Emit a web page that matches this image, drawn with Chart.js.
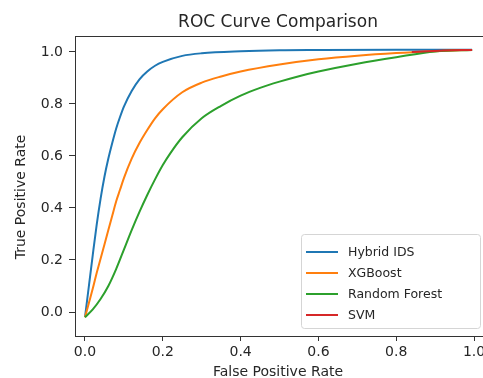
<!DOCTYPE html>
<html>
<head>
<meta charset="utf-8">
<script src="https://cdn.jsdelivr.net/npm/chart.js@4.4.1/dist/chart.umd.min.js"></script>
<style>
  html, body { margin: 0; padding: 0; background: #fff; }
  #wrap { width: 483px; height: 378px; position: relative; overflow: hidden; }
</style>
</head>
<body>
<div id="wrap"><canvas id="rocChart" width="483" height="378"></canvas></div>
<script>
/* ======================================================
   Data
=========================================================*/
const seriesNames = ["Hybrid IDS", "XGBoost", "Random Forest", "SVM"];
const seriesColors = ["#1f77b4", "#ff7f0e", "#2ca02c", "#d62728"];

const fprHybrid = [0, 0.01, 0.02, 0.03, 0.04, 0.05, 0.06, 0.07, 0.08, 0.09, 0.10, 0.12, 0.14, 0.16, 0.18, 0.20, 0.25, 0.30, 0.40, 0.50, 0.60, 0.80, 0.995];
const tprHybrid = [-0.02, 0.10, 0.22, 0.335, 0.435, 0.52, 0.59, 0.65, 0.705, 0.75, 0.79, 0.85, 0.895, 0.925, 0.947, 0.962, 0.985, 0.995, 1.003, 1.007, 1.008, 1.009, 1.009];

const fprXgb = [0, 0.01, 0.02, 0.03, 0.04, 0.05, 0.06, 0.07, 0.08, 0.09, 0.10, 0.12, 0.14, 0.16, 0.18, 0.20, 0.25, 0.30, 0.35, 0.40, 0.50, 0.60, 0.70, 0.80, 0.90, 0.995];
const tprXgb = [-0.02, 0.035, 0.09, 0.15, 0.205, 0.26, 0.315, 0.37, 0.425, 0.47, 0.515, 0.59, 0.65, 0.70, 0.745, 0.78, 0.845, 0.882, 0.906, 0.925, 0.952, 0.972, 0.986, 0.996, 1.003, 1.008];

const fprRf = [0, 0.02, 0.04, 0.06, 0.08, 0.10, 0.12, 0.14, 0.16, 0.18, 0.20, 0.22, 0.25, 0.30, 0.35, 0.40, 0.45, 0.50, 0.55, 0.60, 0.70, 0.80, 0.90, 0.995];
const tprRf = [-0.02, 0.01, 0.05, 0.10, 0.165, 0.24, 0.315, 0.385, 0.45, 0.51, 0.565, 0.612, 0.672, 0.745, 0.793, 0.832, 0.862, 0.886, 0.907, 0.925, 0.955, 0.98, 1.002, 1.008];

const fprSvm = [0.84, 0.92, 0.995];
const tprSvm = [1.0, 1.006, 1.008];

const tickValues = [0, 0.2, 0.4, 0.6, 0.8, 1.0];

/* ======================================================
   Helpers
=========================================================*/
function toPoints(xs, ys) {
  return xs.map((x, i) => ({ x: x, y: ys[i] }));
}

function fixedTicks(scale) {
  scale.ticks = tickValues.map((v) => ({ value: v }));
}

const FONT = "'DejaVu Sans', 'Liberation Sans', sans-serif";
const TEXT = "#262626";

/* ======================================================
   Title, axis titles, legend and frame (matplotlib look)
=========================================================*/
const decorPlugin = {
  id: "decor",
  afterDraw(chart) {
    const ctx = chart.ctx;
    const a = chart.chartArea;
    const cx = (a.left + a.right) / 2;
    ctx.save();

    // frame
    ctx.strokeStyle = "#333";
    ctx.lineWidth = 1;
    ctx.strokeRect(a.left + 0.5, a.top + 0.5, a.right - a.left, a.bottom - a.top);

    // title
    ctx.fillStyle = TEXT;
    ctx.textAlign = "center";
    ctx.textBaseline = "alphabetic";
    ctx.font = "17px " + FONT;
    ctx.fillText("ROC Curve Comparison", cx - 1, 27);

    // axis titles
    ctx.font = "14px " + FONT;
    ctx.fillText("False Positive Rate", cx - 1, 376);
    ctx.save();
    ctx.translate(25, 197);
    ctx.rotate(-Math.PI / 2);
    ctx.fillText("True Positive Rate", 0, 0);
    ctx.restore();

    // legend
    const box = { x: 301, y: 234, w: 179, h: 94 };
    ctx.fillStyle = "rgba(255,255,255,0.8)";
    ctx.strokeStyle = "#d5d5d5";
    ctx.lineWidth = 1;
    ctx.beginPath();
    ctx.roundRect(box.x + 0.5, box.y + 0.5, box.w, box.h, 3);
    ctx.fill();
    ctx.stroke();

    const rows = [252, 273, 294, 315];
    ctx.font = "12.5px " + FONT;
    ctx.textAlign = "left";
    ctx.textBaseline = "middle";
    seriesNames.forEach((name, i) => {
      ctx.strokeStyle = seriesColors[i];
      ctx.lineWidth = 2;
      ctx.beginPath();
      ctx.moveTo(306, rows[i]);
      ctx.lineTo(338, rows[i]);
      ctx.stroke();
      ctx.fillStyle = TEXT;
      ctx.fillText(name, 348, rows[i] + 0.5);
    });

    ctx.restore();
  },
};

/* ======================================================
   Chart
=========================================================*/
const allX = [fprHybrid, fprXgb, fprRf, fprSvm];
const allY = [tprHybrid, tprXgb, tprRf, tprSvm];

const datasets = seriesNames.map((name, i) => ({
  label: name,
  data: toPoints(allX[i], allY[i]),
  borderColor: seriesColors[i],
  backgroundColor: seriesColors[i],
  borderWidth: 2,
  pointRadius: 0,
  fill: false,
  cubicInterpolationMode: "monotone",
  order: seriesNames.length - i, // later series drawn on top, like matplotlib
}));

new Chart(document.getElementById("rocChart"), {
  type: "line",
  data: { datasets: datasets },
  options: {
    responsive: false,
    animation: false,
    events: [],
    layout: { padding: { top: 36, left: 0, right: 0, bottom: 0 } },
    plugins: {
      legend: { display: false },
      title: { display: false },
      tooltip: { enabled: false },
    },
    scales: {
      x: {
        type: "linear",
        min: -0.0257,
        max: 1.023,
        afterBuildTicks: fixedTicks,
        afterFit: (s) => {
          s.height = 42;
          s.paddingLeft = 0;
          s.paddingRight = 0;
        },
        border: { display: false },
        grid: { drawOnChartArea: false, drawTicks: true, tickLength: 5, color: "#333" },
        ticks: {
          padding: 3,
          color: TEXT,
          font: { family: FONT, size: 14 },
          maxRotation: 0,
          callback: (v) => v.toFixed(1),
        },
      },
      y: {
        type: "linear",
        min: -0.0923,
        max: 1.0615,
        afterBuildTicks: fixedTicks,
        afterFit: (s) => {
          s.width = 75;
          s.paddingTop = 0;
          s.paddingBottom = 0;
        },
        border: { display: false },
        grid: { drawOnChartArea: false, drawTicks: true, tickLength: 6, color: "#333" },
        ticks: {
          padding: 6,
          color: TEXT,
          font: { family: FONT, size: 14 },
          callback: (v) => v.toFixed(1),
        },
      },
    },
  },
  plugins: [decorPlugin],
});
</script>
</body>
</html>
